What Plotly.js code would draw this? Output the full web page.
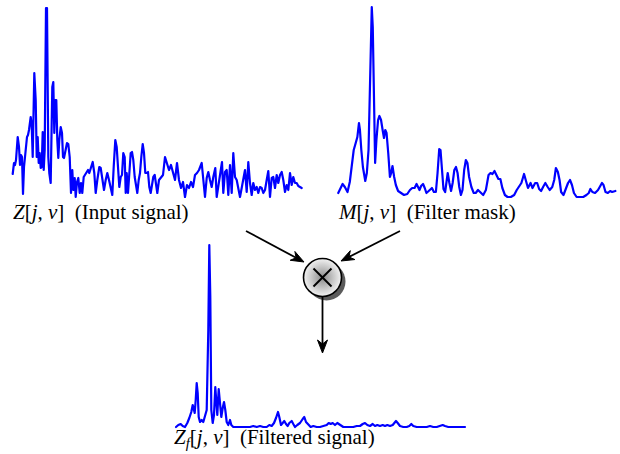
<!DOCTYPE html>
<html>
<head>
<meta charset="utf-8">
<script src="https://cdn.plot.ly/plotly-3.0.1.min.js"></script>
<style>
  html, body { margin: 0; padding: 0; background: #fff; }
  #chart { width: 620px; height: 454px; }
  .js-line { stroke-linejoin: round; stroke-linecap: round; }
</style>
</head>
<body>
<div id="chart"></div>
<script>
// Input spectrum Z[j, v]: frequency bin and magnitude
const inputBins = [0.7,2,3,4,5.7,7,8,9,10,11,12,13,14,15,16,17,18.7,19.7,20.7,22.3,23.7,24.7,25.7,26.7,27.7,28.7,29.7,30.7,31.7,32.7,34,35,36.3,37.3,38.7,40.3,41.3,42.3,43.3,44.3,45.3,46.3,47.3,48.7,50,51,52,53.3,55,56.3,57.7,59,60.3,61.3,62.7,63.7,65,66.3,67.7,69,70.3,71.7,73,74.3,76,77.3,79,80.7,82.3,83.7,85.3,87.3,88.7,90.3,92,93.7,95.3,97,98.7,100.3,101.7,103.3,104.7,106,107.3,108.7,110,111.3,112.7,113.7,114.7,116,117.3,118.7,120,121.3,122.7,124,125.3,126.7,128,129.3,130.7,132,133.3,134.7,136,137.3,138.7,140,141.3,142.7,144,145.3,147,149,151,153,155,157,159,161,163,165,167,169,171,173,175,177,179,181,183,185,187,189.7,191.3,193,194.7,196.3,198,199.7,201.3,203.3,204.7,206.3,208,210,211.3,213,214.7,216.3,218,219.7,221.3,223,224.7,226.3,228,229.7,231.3,233,234.7,236.3,238,239.7,241.3,243,244.7,246.3,248,249.7,251.3,253,254.7,256.3,258,259.7,261.3,263,264.7,266.3,268,269.7,271.3,273,274.7,276.3,278,279.7,281.3,283,284.7,286.3,288,289.7];
const inputMag = [23,34,32,37,60,50,32,42,40,3,30,42,45,60,62,67,80,72,40,124,97,40,60,34,44,29,30,65,27,47,189,189,40,24,14,110,115,64,97,97,57,39,57,70,64,40,39,47,54,53,40,4,27,7,19,0,15,19,4,14,4,20,22,24,27,24,30,35,24,4,17,30,29,20,7,17,24,17,7,2,30,57,50,27,10,20,22,44,40,4,24,4,20,44,45,37,20,10,4,17,24,40,53,44,24,24,25,10,4,12,20,22,15,4,17,19,22,40,32,27,32,25,17,34,17,9,15,0,12,9,15,10,22,24,27,34,19,0,19,25,17,10,20,29,0,10,20,35,4,25,27,2,32,4,44,20,17,9,0,9,17,27,5,35,14,2,14,7,10,4,10,9,4,7,17,26,0,19,20,9,22,14,22,25,17,5,12,7,24,12,20,14,14,11,10,9];

// Filter mask M[j, v]
const maskBins = [0.3,4.7,7,9.7,12,14,16,18,19.7,21.3,22.3,23.7,25.3,27.7,29.3,31,32.3,33.3,34.3,35.3,36.3,37.7,39,40.7,42,43.7,45.3,46.7,48,49.3,51,52.7,54,55.3,57,58.7,61,63.7,67,70.3,73,75.3,77.7,79.7,81.3,82.7,84.3,86.3,88,89.7,92,93.7,95.3,97.3,99.3,101,102.7,104,105.3,107,108.7,110.3,111.3,113,114.7,116.3,118,119.7,121.3,123,124.7,126.3,128,129.7,131.3,133,135.3,137.7,139.7,142,144.7,147.3,150,152.7,154.7,156.7,158.7,160.7,162.7,164.7,166.7,169.3,172,175.3,178.7,181.3,183.7,186,188.7,190.7,192.7,195.3,197.3,200,202,204,206,208,210.3,212.7,214.7,217.3,219.3,221,223,224.7,226.3,228.7,231,233.3,235.3,237.3,239.3,242,245.3,248.7,252,254.3,256,258,260.7,263.7,266,267.7,269.3,271.3,273.7,276,278,281.3];
const maskMag = [4,13,10,5,15,30,47,54,60,74,67,47,30,16,24,47,114,177,190,170,97,34,57,77,81,77,67,59,67,64,44,20,24,31,20,12,6,4,2,3,7,9,9,13,9,7,11,13,9,4,6,8,9,5,5,24,48,47,25,8,5,15,24,14,6,14,27,30,24,10,2,7,27,37,34,20,10,4,4,7,4,2,7,22,24,23,26,22,18,18,9,2,0,0,2,7,10,14,23,17,9,14,9,14,14,8,6,10,14,10,7,10,17,29,25,17,5,2,8,14,17,12,4,0,0,0,2,4,8,5,4,7,11,14,12,5,4,6,5,6];

// Filtered spectrum Z_f[j, v]
const filtBins = [1,3.3,5.7,7.7,10,12.3,14.3,16.3,17.7,18.7,19.7,20.7,21.7,22.7,23.7,25,26.7,28.3,30,31.7,33.3,34.3,35.3,36.3,37.7,39,40.3,41.3,42.3,43.7,45,46.3,47.7,49,50.3,51.7,53.3,55,56.3,58.3,61.7,65,68.3,71.7,75,78.3,81.7,85,88.3,91.7,94.3,96.7,99,101,103,104.3,106,107.7,109.3,111,112.7,114.3,116.7,118.3,120,122.3,125,127.7,129.3,131,133.3,135.7,138.3,141.7,145,149,151.7,153.7,155.7,157.7,160,162.3,165,168.3,171.7,175,178.3,181.7,185,187.7,190,192.3,195,197.7,200,202.3,205,207.7,210,212.3,215,217.7,219.3,221,222.7,225,228.3,231.7,234.3,236.3,238.3,241.7,245,248.3,251.7,255,258.3,261.7,265,267.7,270,273.3,278.3,285,290];
const filtMag = [1,3,4,2,1,5,10,16,23,20,15,28,45,35,11,6,8,6,11,18,98,183,131,18,5,13,41,25,13,39,21,11,20,26,18,6,3,8,3,1,1,1,1,1,1,2,1,2,1,1,3,2,5,10,16,11,3,5,7,4,2,5,7,4,1,3,5,9,11,6,3,1,2,1,1,2,3,5,4,5,3,5,3,1,1,1,1,2,2,4,5,3,2,4,2,3,2,3,2,3,2,3,5,7,5,2,1,1,2,4,2,1,1,1,1,2,1,1,2,3,2,1,1,1,1];

// Caption text for each spectrum
const GAP = '&nbsp;&nbsp;';
const captions = {
  input: '<i>Z</i>[<i>j</i>, <i>v</i>]' + GAP + '(Input signal)',
  mask: '<i>M</i>[<i>j</i>, <i>v</i>]' + GAP + '(Filter mask)',
  filtered: '<i>Z<sub>f</sub></i>[<i>j</i>, <i>v</i>]' + GAP + '(Filtered signal)'
};

const W = 620, H = 454;
const MAG_SPAN = 190, PAD = 4;

// Place a spectrum panel in pixel space: left edge, baseline row, bin span
function panelAxes(left, baseline, span) {
  return {
    x: {
      domain: [(left - PAD) / W, (left + span + PAD) / W],
      range: [-PAD, span + PAD],
      visible: false, fixedrange: true
    },
    y: {
      domain: [(H - baseline - PAD) / H, (H - baseline + MAG_SPAN + PAD) / H],
      range: [-PAD, MAG_SPAN + PAD],
      visible: false, fixedrange: true
    }
  };
}

const pIn = panelAxes(12, 197, 290);
const pMask = panelAxes(338, 197, 282);
const pFilt = panelAxes(175, 428, 290);

const lineStyle = { color: '#0000ff', width: 2.2 };

const traces = [
  { x: inputBins, y: inputMag, xaxis: 'x', yaxis: 'y', mode: 'lines', line: lineStyle, hoverinfo: 'skip' },
  { x: maskBins, y: maskMag, xaxis: 'x2', yaxis: 'y2', mode: 'lines', line: lineStyle, hoverinfo: 'skip' },
  { x: filtBins, y: filtMag, xaxis: 'x3', yaxis: 'y3', mode: 'lines', line: lineStyle, hoverinfo: 'skip' },
  // multiplier node: drop shadow, then shaded disc
  { x: [326.5], y: [281.5], xaxis: 'x4', yaxis: 'y4', mode: 'markers',
    marker: { size: 38, color: '#4a4a4a', line: { width: 0 } }, hoverinfo: 'skip', opacity: 0.9 },
  { x: [322.5], y: [277.5], xaxis: 'x4', yaxis: 'y4', mode: 'markers',
    marker: { size: 38, color: '#f2f2f2', gradient: { type: 'radial', color: '#8c8c8c' },
              line: { color: '#000', width: 1.6 } }, hoverinfo: 'skip' }
];

const serif = { family: '"Liberation Serif", "DejaVu Serif", serif', size: 21, color: '#000' };

function caption(x, y, text) {
  return { x, y, xref: 'x4', yref: 'y4', text, showarrow: false,
           xanchor: 'left', yanchor: 'middle', font: serif };
}

// Stealth-style arrow: shaft plus notched head, in overlay pixel space
function arrowShapes(tailX, tailY, tipX, tipY) {
  const len = Math.hypot(tipX - tailX, tipY - tailY);
  const dx = (tipX - tailX) / len, dy = (tipY - tailY) / len;
  const nx = -dy, ny = dx;
  const L = 13, w = 5, notch = 4;
  const bx = tipX - L * dx, by = tipY - L * dy;
  const mx = tipX - (L - notch) * dx, my = tipY - (L - notch) * dy;
  const path = 'M' + tipX + ',' + tipY +
    ' L' + (bx + w * nx) + ',' + (by + w * ny) +
    ' L' + mx + ',' + my +
    ' L' + (bx - w * nx) + ',' + (by - w * ny) + ' Z';
  return [
    { type: 'line', xref: 'x4', yref: 'y4', x0: tailX, y0: tailY, x1: mx, y1: my,
      line: { color: '#000', width: 1.8 } },
    { type: 'path', xref: 'x4', yref: 'y4', path,
      fillcolor: '#000', line: { color: '#000', width: 1 } }
  ];
}

const crossShapes = [
  { type: 'line', xref: 'x4', yref: 'y4', x0: 313.5, y0: 268.5, x1: 331.5, y1: 286.5,
    line: { color: '#000', width: 2 } },
  { type: 'line', xref: 'x4', yref: 'y4', x0: 331.5, y0: 268.5, x1: 313.5, y1: 286.5,
    line: { color: '#000', width: 2 } }
];

const layout = {
  width: W, height: H,
  margin: { l: 0, r: 0, t: 0, b: 0 },
  paper_bgcolor: '#fff', plot_bgcolor: 'rgba(0,0,0,0)',
  showlegend: false,
  xaxis: Object.assign({ anchor: 'y' }, pIn.x),
  yaxis: Object.assign({ anchor: 'x' }, pIn.y),
  xaxis2: Object.assign({ anchor: 'y2' }, pMask.x),
  yaxis2: Object.assign({ anchor: 'x2' }, pMask.y),
  xaxis3: Object.assign({ anchor: 'y3' }, pFilt.x),
  yaxis3: Object.assign({ anchor: 'x3' }, pFilt.y),
  // pixel-space overlay for the diagram parts
  xaxis4: { domain: [0, 1], range: [0, W], visible: false, anchor: 'y4', fixedrange: true },
  yaxis4: { domain: [0, 1], range: [H, 0], visible: false, anchor: 'x4', fixedrange: true },
  shapes: crossShapes
    .concat(arrowShapes(246, 231, 304, 262))
    .concat(arrowShapes(400, 231, 341, 261))
    .concat(arrowShapes(322.5, 297, 322.5, 353)),
  annotations: [
    caption(11, 212, captions.input),
    caption(336, 212, captions.mask),
    caption(172, 438, captions.filtered)
  ]
};

Plotly.newPlot('chart', traces, layout, { staticPlot: true, displayModeBar: false });
</script>
</body>
</html>
